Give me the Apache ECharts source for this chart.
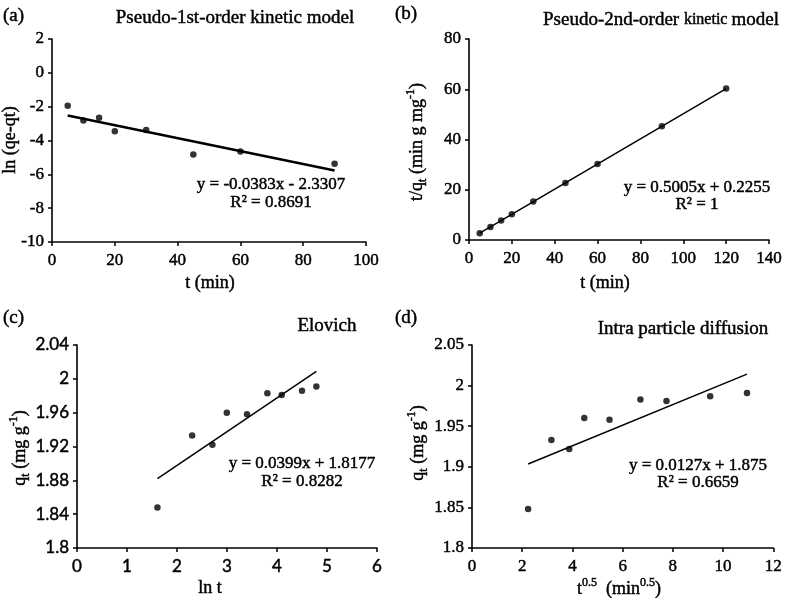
<!DOCTYPE html>
<html>
<head>
<meta charset="utf-8">
<script src="https://cdn.jsdelivr.net/npm/echarts@6/dist/echarts.min.js"></script>
<style>html,body{margin:0;padding:0;background:#fff}#c{width:785px;height:598px}</style>
</head>
<body>
<div id="c"></div>
<script>
// ---- data ----
const tA = [5, 10, 15, 20, 30, 45, 60, 90];
const lnQeQt = [-1.94, -2.82, -2.66, -3.46, -3.38, -4.83, -4.65, -5.38];
const fitA = [-0.0383, -2.3307];

const tB = [5, 10, 15, 20, 30, 45, 60, 90, 120];
const tOverQt = [2.70, 5.17, 7.80, 10.20, 15.32, 22.69, 30.27, 45.29, 60.27];
const fitB = [0.5005, 0.2255];

const lnT = [1.609, 2.303, 2.708, 2.996, 3.401, 3.807, 4.094, 4.500, 4.787];
const qtC = [1.848, 1.933, 1.922, 1.960, 1.958, 1.983, 1.981, 1.986, 1.991];
const fitC = [0.0399, 1.8177];

const sqrtT = [2.236, 3.162, 3.873, 4.472, 5.477, 6.708, 7.746, 9.487, 10.954];
const qtD = [1.848, 1.933, 1.922, 1.960, 1.958, 1.983, 1.981, 1.987, 1.991];
const fitD = [0.0127, 1.875];

const panelLetters = ['(a)', '(b)', '(c)', '(d)'];
const eqA = ['y = -0.0383x - 2.3307', 'R² = 0.8691'];
const eqB = ['y = 0.5005x + 0.2255', 'R² = 1'];
const eqC = ['y = 0.0399x + 1.8177', 'R² = 0.8282'];
const eqD = ['y = 0.0127x + 1.875', 'R² = 0.6659'];

// ---- helpers ----
const SERIF = "'Liberation Serif','Times New Roman',serif";
const SANS = "Lato,'Open Sans',sans-serif";
const SW = 0.45; // slight text stroke to mimic heavier rendering
const pts = (xs, ys) => xs.map((x, i) => [x, ys[i]]);
const fitLine = (xs, f) => {
  const x0 = Math.min(...xs), x1 = Math.max(...xs);
  return [[x0, f[0] * x0 + f[1]], [x1, f[0] * x1 + f[1]]];
};
const axisCommon = {
  axisLine: { show: true, onZero: false, lineStyle: { color: '#000', width: 1.6 } },
  axisTick: { show: true, inside: false, length: 4, lineStyle: { color: '#000', width: 1.5 } },
  splitLine: { show: false },
  axisLabel: { color: '#000', fontFamily: SERIF, fontSize: 17, textBorderColor: '#000', textBorderWidth: SW }
};
function xAx(idx, min, max, interval, fam) {
  return Object.assign({}, axisCommon, {
    type: 'value', gridIndex: idx, min, max, interval,
    axisLabel: Object.assign({}, axisCommon.axisLabel, { margin: 10, fontFamily: fam || SERIF })
  });
}
function yAx(idx, min, max, interval, fam, dec) {
  return Object.assign({}, axisCommon, {
    type: 'value', gridIndex: idx, min, max, interval,
    axisLabel: Object.assign({}, axisCommon.axisLabel, {
      margin: 8, fontFamily: fam || SERIF,
      formatter: v => String(parseFloat(v.toFixed(dec || 0)))
    })
  });
}
function scat(idx, data) {
  return { type: 'scatter', xAxisIndex: idx, yAxisIndex: idx, data, symbolSize: 6.5,
    itemStyle: { color: '#000' }, z: 5 };
}
function lineS(idx, data, w) {
  return { type: 'line', xAxisIndex: idx, yAxisIndex: idx, data, symbol: 'none',
    lineStyle: { color: '#000', width: w }, z: 4 };
}
function txt(x, y, text, size, align, extra) {
  return Object.assign({
    type: 'text', x, y,
    style: { text, fill: '#000', fontSize: size, fontFamily: SERIF,
      stroke: '#000', lineWidth: SW,
      textAlign: align || 'center', textVerticalAlign: 'middle' }
  }, extra || {});
}
const tb = { stroke: '#000', lineWidth: SW, fill: '#000', fontFamily: SERIF };
const richBase = {
  n: Object.assign({ fontSize: 18, lineHeight: 24 }, tb),
  h: Object.assign({ fontSize: 19, lineHeight: 24 }, tb),
  sub: Object.assign({ fontSize: 12, lineHeight: 12, verticalAlign: 'bottom' }, tb),
  sup: Object.assign({ fontSize: 12, lineHeight: 12, verticalAlign: 'top' }, tb),
  sm: Object.assign({ fontSize: 16, lineHeight: 24 }, tb)
};
function rich(x, y, text, rot) {
  return { type: 'text', x, y, rotation: rot || 0,
    style: { text, rich: richBase, textAlign: 'center', textVerticalAlign: 'middle' } };
}

const chart = echarts.init(document.getElementById('c'), null, { renderer: 'canvas' });
chart.setOption({
  animation: false,
  backgroundColor: '#fff',
  grid: [
    { left: 52, top: 39, width: 314, height: 203 },
    { left: 469, top: 39, width: 301, height: 201 },
    { left: 77, top: 345, width: 300, height: 203 },
    { left: 472, top: 345, width: 304, height: 203 }
  ],
  xAxis: [
    xAx(0, 0, 100, 20),
    xAx(1, 0, 140, 20),
    xAx(2, 0, 6, 1, SANS),
    xAx(3, 0, 12, 2)
  ],
  yAxis: [
    yAx(0, -10, 2, 2),
    yAx(1, 0, 80, 20),
    yAx(2, 1.8, 2.04, 0.04, SANS, 2),
    yAx(3, 1.8, 2.05, 0.05, null, 2)
  ],
  series: [
    lineS(0, fitLine(tA, fitA), 2.5), scat(0, pts(tA, lnQeQt)),
    lineS(1, fitLine(tB, fitB), 1.5), scat(1, pts(tB, tOverQt)),
    lineS(2, fitLine(lnT, fitC), 1.5), scat(2, pts(lnT, qtC)),
    lineS(3, fitLine(sqrtT, fitD), 1.5), scat(3, pts(sqrtT, qtD))
  ],
  graphic: [
    txt(3, 16, panelLetters[0], 19, 'left'),
    txt(395, 14, panelLetters[1], 19, 'left'),
    txt(3, 318, panelLetters[2], 19, 'left'),
    txt(395, 318, panelLetters[3], 19, 'left'),
    txt(235, 18, 'Pseudo-1st-order kinetic model', 19),
    rich(661, 20, '{h|Pseudo-2nd-order }{sm|kinetic }{h|model}'),
    txt(327, 326, 'Elovich', 19),
    txt(683, 329, 'Intra particle diffusion', 19),
    txt(271, 185, eqA[0], 17), txt(271, 203, eqA[1], 17),
    txt(697, 188, eqB[0], 17), txt(697, 205, eqB[1], 17),
    txt(302, 464, eqC[0], 17), txt(302, 482, eqC[1], 17),
    txt(698, 466, eqD[0], 17), txt(698, 483, eqD[1], 17),
    txt(10, 140, 'ln (qe-qt)', 18, 'center', { rotation: Math.PI / 2 }),
    rich(417, 142, '{n|t/q}{sub|t}{n| (min g mg}{sup|-1}{n|)}', Math.PI / 2),
    rich(20, 448, '{n|q}{sub|t}{n| (mg g}{sup|-1}{n|)}', Math.PI / 2),
    rich(418, 443, '{n|q}{sub|t}{n| (mg g}{sup|-1}{n|)}', Math.PI / 2),
    txt(210, 283, 't (min)', 18),
    txt(605, 283, 't (min)', 18),
    txt(210, 588, 'ln t', 18),
    rich(619, 589, '{n|t}{sup|0.5}{n|  (min}{sup|0.5}{n|)}')
  ]
});
</script>
</body>
</html>
